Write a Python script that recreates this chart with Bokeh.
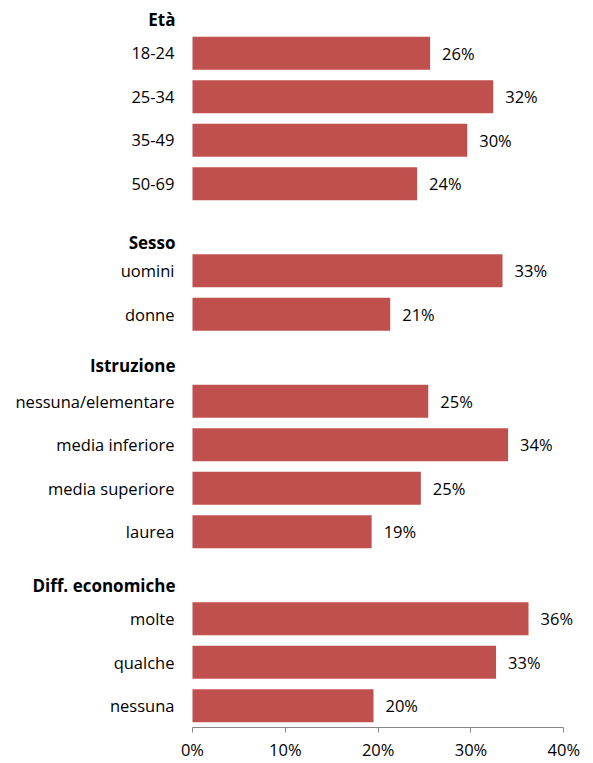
from bokeh.plotting import figure
from bokeh.models import Range1d, FixedTicker, ColumnDataSource, PrintfTickFormatter
from bokeh.core.properties import value
from bokeh.embed import file_html
from bokeh.resources import INLINE

# ---- data ----
groups = ["Età", "Sesso", "Istruzione", "Diff. economiche"]
group_sizes = [4, 2, 4, 3]
categories = ["18-24", "25-34", "35-49", "50-69",
              "uomini", "donne",
              "nessuna/elementare", "media inferiore", "media superiore", "laurea",
              "molte", "qualche", "nessuna"]
values = [25.6, 32.4, 29.6, 24.2,
          33.4, 21.3,
          25.4, 34.0, 24.6, 19.3,
          36.2, 32.7, 19.5]
value_labels = ["26%", "32%", "30%", "24%",
                "33%", "21%",
                "25%", "34%", "25%", "19%",
                "36%", "33%", "20%"]
x_ticks = [0, 10, 20, 30, 40]

# ---- layout (row positions: one blank row between groups) ----
rows, header_rows = [], []
start = 0
for n in group_sizes:
    header_rows.append(start)
    rows.extend(range(start, start + n))
    start += n + 1
header_shift = [-0.77, -0.64, -0.82, -0.77]
header_y = [r + s for r, s in zip(header_rows, header_shift)]

FONT = "Open Sans"
RED = "#C0504D"
GRAY = "#868686"

p = figure(width=593, height=763, output_backend="svg", toolbar_location=None,
           x_range=Range1d(-20.68, 43.2), y_range=Range1d(rows[-1] + 0.5, -1.1),
           min_border_left=0, min_border_right=0, min_border_top=5,
           min_border_bottom=34)
p.outline_line_color = None
p.xgrid.grid_line_color = None
p.ygrid.grid_line_color = None
p.yaxis.visible = False
p.background_fill_color = "white"
p.border_fill_color = "white"

src = ColumnDataSource(dict(y=rows, v=values, lab=value_labels, cat=categories,
                            zero=[0] * len(rows)))
p.hbar(y="y", right="v", left=0, height=0.76, source=src,
       fill_color=RED, line_color=None)
# value labels
p.text(x="v", y="y", text="lab", source=src, x_offset=12,
       text_baseline="middle", text_align="left",
       text_font=value(FONT), text_font_size="16.5px", text_color="#000000")
# category labels
p.text(x="zero", y="y", text="cat", source=src, x_offset=-18,
       text_baseline="middle", text_align="right",
       text_font=value(FONT), text_font_size="16.5px", text_color="#000000")
# group headers
hsrc = ColumnDataSource(dict(y=header_y, g=groups, zero=[0] * len(groups)))
p.text(x="zero", y="y", text="g", source=hsrc, x_offset=-17,
       text_baseline="middle", text_align="right",
       text_font=value(FONT), text_font_size="17px", text_font_style="bold",
       text_color="#000000")

# x axis
xa = p.xaxis[0]
xa.bounds = (0, 40)
xa.ticker = FixedTicker(ticks=x_ticks)
xa.formatter = PrintfTickFormatter(format="%d%%")
xa.axis_line_color = GRAY
xa.major_tick_line_color = GRAY
xa.major_tick_in = 0
xa.major_tick_out = 5
xa.minor_tick_line_color = None
xa.major_label_standoff = 5
xa.major_label_text_font = FONT
xa.major_label_text_font_size = "16.5px"
xa.major_label_text_color = "#000000"

open("out.html", "w").write(file_html(p, INLINE))
